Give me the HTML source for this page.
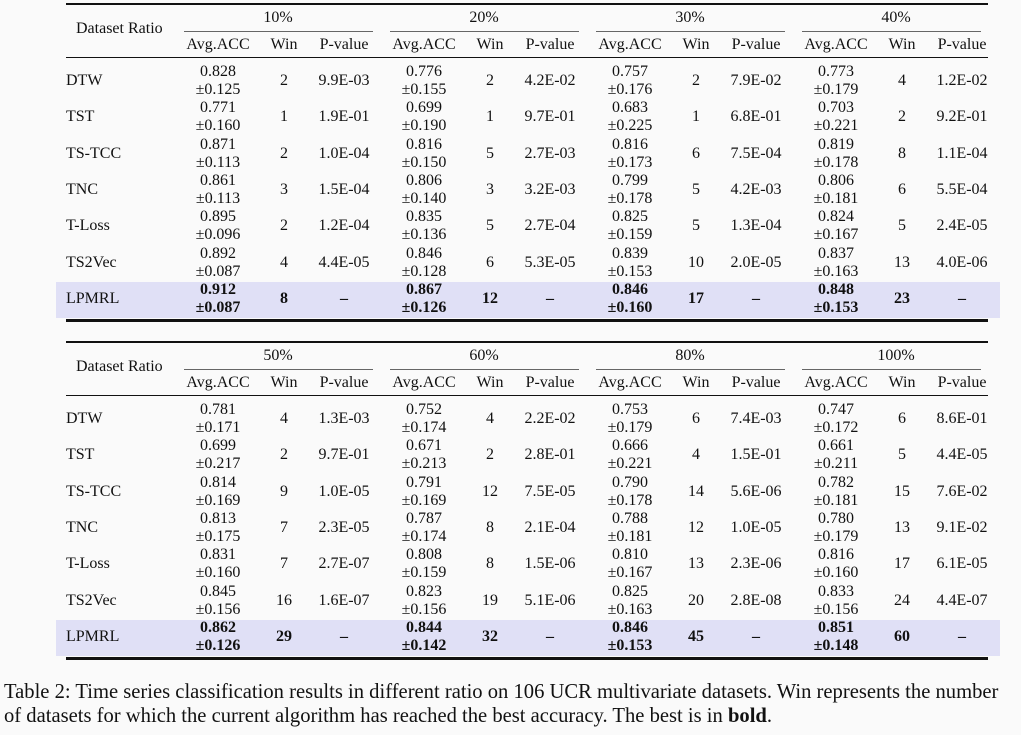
<!DOCTYPE html>
<html><head><meta charset="utf-8"><style>
html,body{margin:0;padding:0}
body{width:1021px;height:735px;position:relative;background:#fafafa;font-family:"Liberation Serif",serif;color:#111;overflow:hidden}
.t{position:absolute;white-space:nowrap;font-size:16px;line-height:18px;transform:translateX(-50%);text-align:center}
.l{position:absolute;white-space:nowrap;font-size:16px;line-height:18px}
.r{position:absolute;background:#111}
.shade{position:absolute;background:#e0e0f6}
.cap{position:absolute;left:4px;font-size:20.6px;white-space:nowrap;line-height:24px}
</style></head><body>
<div id="root"></div>
<div class="cap" style="top:680px">Table 2: Time series classification results in different ratio on 106 UCR multivariate datasets. Win represents the number</div>
<div class="cap" style="top:704px">of datasets for which the current algorithm has reached the best accuracy. The best is in <b>bold</b>.</div>
<script>
const methods=["DTW","TST","TS-TCC","TNC","T-Loss","TS2Vec","LPMRL"];
const ratiosTop=["10%","20%","30%","40%"];
const ratiosBot=["50%","60%","80%","100%"];
const accTop=[["0.828","0.125","2","9.9E-03","0.776","0.155","2","4.2E-02","0.757","0.176","2","7.9E-02","0.773","0.179","4","1.2E-02"],
["0.771","0.160","1","1.9E-01","0.699","0.190","1","9.7E-01","0.683","0.225","1","6.8E-01","0.703","0.221","2","9.2E-01"],
["0.871","0.113","2","1.0E-04","0.816","0.150","5","2.7E-03","0.816","0.173","6","7.5E-04","0.819","0.178","8","1.1E-04"],
["0.861","0.113","3","1.5E-04","0.806","0.140","3","3.2E-03","0.799","0.178","5","4.2E-03","0.806","0.181","6","5.5E-04"],
["0.895","0.096","2","1.2E-04","0.835","0.136","5","2.7E-04","0.825","0.159","5","1.3E-04","0.824","0.167","5","2.4E-05"],
["0.892","0.087","4","4.4E-05","0.846","0.128","6","5.3E-05","0.839","0.153","10","2.0E-05","0.837","0.163","13","4.0E-06"],
["0.912","0.087","8","–","0.867","0.126","12","–","0.846","0.160","17","–","0.848","0.153","23","–"]];
const accBot=[["0.781","0.171","4","1.3E-03","0.752","0.174","4","2.2E-02","0.753","0.179","6","7.4E-03","0.747","0.172","6","8.6E-01"],
["0.699","0.217","2","9.7E-01","0.671","0.213","2","2.8E-01","0.666","0.221","4","1.5E-01","0.661","0.211","5","4.4E-05"],
["0.814","0.169","9","1.0E-05","0.791","0.169","12","7.5E-05","0.790","0.178","14","5.6E-06","0.782","0.181","15","7.6E-02"],
["0.813","0.175","7","2.3E-05","0.787","0.174","8","2.1E-04","0.788","0.181","12","1.0E-05","0.780","0.179","13","9.1E-02"],
["0.831","0.160","7","2.7E-07","0.808","0.159","8","1.5E-06","0.810","0.167","13","2.3E-06","0.816","0.160","17","6.1E-05"],
["0.845","0.156","16","1.6E-07","0.823","0.156","19","5.1E-06","0.825","0.163","20","2.8E-08","0.833","0.156","24","4.4E-07"],
["0.862","0.126","29","–","0.844","0.142","32","–","0.846","0.153","45","–","0.851","0.148","60","–"]];
const root=document.getElementById('root');
function add(cls,css,html){const d=document.createElement('div');d.className=cls;d.style.cssText=css;if(html!==undefined)d.innerHTML=html;root.appendChild(d);return d;}
function table(y0,ratios,data,key){
  let s=add('shade',`left:56px;width:944px;top:${y0+279}px;height:36px`);
  
  
  let r=add('r',`left:66px;width:922px;top:${y0}px;height:2px`);
  
  
  r=add('r',`left:66px;width:922px;top:${y0+54}px;height:1px`);
  
  
  r=add('r',`left:66px;width:922px;top:${y0+316}px;height:3px`);
  
  
  let h=add('l',`left:76px;top:${y0+17}px`,'Dataset Ratio');
  
  
  ratios.forEach((rt,g)=>{
    const gx=g*206;
    let c=add('r',`left:${184+gx}px;width:${g==3?179:189}px;top:${y0+28}px;height:1px;background:#666`);
    
    
    let t=add('t',`left:${278+gx}px;top:${y0+6}px`,rt);
    
    
    [['Avg.ACC',218],['Win',284],['P-value',344]].forEach(([n,x])=>{
      let e=add('t',`left:${x+gx}px;top:${y0+33}px`,n);
      
      
    });
  });
  methods.forEach((m,i)=>{
    const cy=y0+78+i*36.3;
    const b=i==6;
    let e=add('l',`left:66px;top:${cy-9}px`,m);
    
    
    for(let g=0;g<4;g++){
      const gx=g*206,d=data[i];
      const w=b?'font-weight:bold;':'';
      e=add('t',`left:${218+gx}px;top:${cy-18}px;${w}`,d[g*4]+'<br>±'+d[g*4+1]);
      
      
      e=add('t',`left:${284+gx}px;top:${cy-9}px;${w}`,d[g*4+2]);
      
      
      e=add('t',`left:${344+gx}px;top:${cy-9}px;${w}`,d[g*4+3]);
      
      
    }
  });
}
table(3,ratiosTop,accTop,'top-table');
table(341,ratiosBot,accBot,'bottom-table');
</script>
</body></html>
